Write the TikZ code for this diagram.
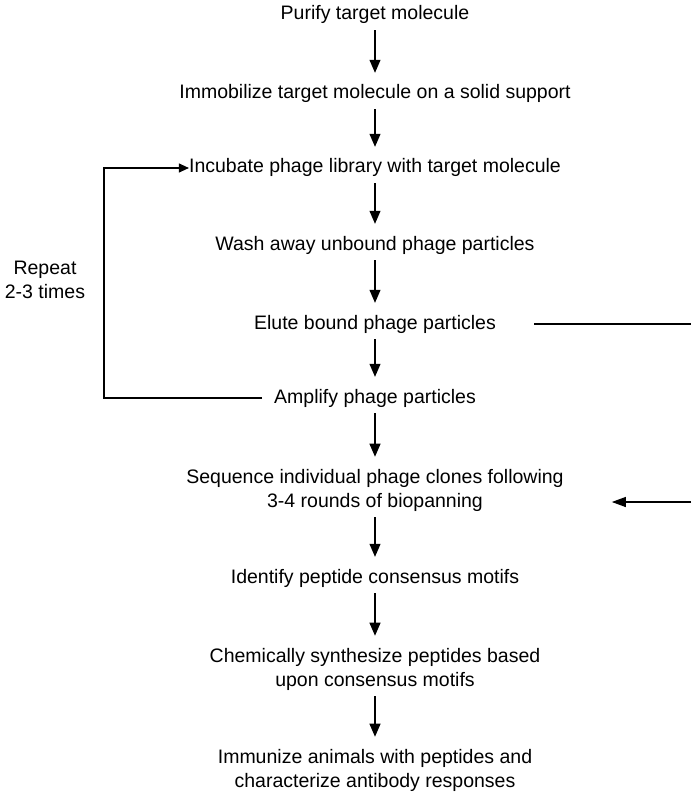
\documentclass[tikz,border=0pt]{standalone}
\usepackage{fontspec}
\setmainfont{Liberation Sans}
\usetikzlibrary{arrows.meta}
\begin{document}
\begin{tikzpicture}[x=1pt,y=-1pt,
  txt/.style={inner sep=0pt,font=\fontsize{19.5}{24}\selectfont,align=center},
  one/.style={txt,text height=14pt,text depth=4pt},
  arr/.style={line width=1.1pt,-{Triangle[length=13pt,width=11pt]},shorten <=6pt,shorten >=12pt},
  lin/.style={line width=1.1pt}]
\useasboundingbox (0,0) rectangle (691,794);
\node[one] (n1) at (375,15) {Purify target molecule};
\node[one] (n2) at (375,94) {Immobilize target molecule on a solid support};
\node[one] (n3) at (375,168) {Incubate phage library with target molecule};
\node[one] (n4) at (375,245) {Wash away unbound phage particles};
\node[one] (n5) at (375,324) {Elute bound phage particles};
\node[one] (n6) at (375,398) {Amplify phage particles};
\node[txt] (n7) at (375,490) {Sequence individual phage clones following\\3-4 rounds of biopanning};
\node[one] (n8) at (375,578) {Identify peptide consensus motifs};
\node[txt] (n9) at (375,669) {Chemically synthesize peptides based\\upon consensus motifs};
\node[txt] (n10) at (375,770) {Immunize animals with peptides and\\characterize antibody responses};
\node[txt] (rep) at (45,280) {Repeat\\2-3 times};
\draw[arr] (n1.south) -- (n2.north);
\draw[arr] (n2.south) -- (n3.north);
\draw[arr] (n3.south) -- (n4.north);
\draw[arr] (n4.south) -- (n5.north);
\draw[arr] (n5.south) -- (n6.north);
\draw[arr] (n6.south) -- (n7.north);
\draw[arr] (n7.south) -- (n8.north);
\draw[arr] (n8.south) -- (n9.north);
\draw[arr] (n9.south) -- (n10.north);
\coordinate (lx) at (104,280);
\draw[lin,shorten <=12pt,-{Triangle[length=10pt,width=9pt]}] (n6.west) -| (lx) |- (n3.west);
\coordinate (re1) at (691,324);
\coordinate (re2) at (691,502);
\draw[lin,shorten <=38pt] (n5.east) -- (re1);
\draw[lin,shorten >=48pt,-{Triangle[length=14pt,width=10pt]}] (re2) -- (n7.east |- re2);
\end{tikzpicture}
\end{document}
